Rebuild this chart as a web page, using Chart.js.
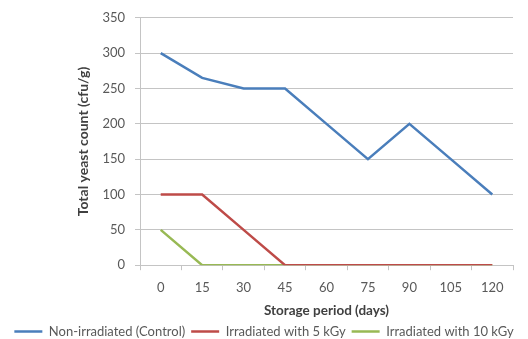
<!DOCTYPE html>
<html>
<head>
<meta charset="utf-8">
<script src="https://cdn.jsdelivr.net/npm/chart.js@4/dist/chart.umd.min.js"></script>
<style>
  html, body { margin: 0; padding: 0; background: #ffffff; }
  #wrap { width: 528px; height: 339px; }
</style>
</head>
<body>
<div id="wrap"><canvas id="c"></canvas></div>
<script>
// Storage period (days)
const storageDays = ['0', '15', '30', '45', '60', '75', '90', '105', '120'];
// Total yeast count (cfu/g) per treatment
const nonIrradiated = [300, 265, 250, 250, 200, 150, 200, 150, 100];
const irradiated5kGy = [100, 100, 50, 0, 0, 0, 0, 0, 0];
const irradiated10kGy = [50, 0, 0, 0, 0, 0, 0, 0, 0];
// Value axis ticks
const yTickValues = [0, 50, 100, 150, 200, 250, 300, 350];

const FONT = 'Lato, "Open Sans", sans-serif';
const TICK_COLOR = '#595959';
const GRID_COLOR = '#c4c4c4';

const lineSet = (label, data, color) => ({
  label, data,
  borderColor: color,
  backgroundColor: color,
  borderWidth: 2.5,
  pointRadius: 0,
  pointHoverRadius: 0,
  tension: 0,
  fill: false,
  pointStyle: 'line'
});

new Chart(document.getElementById('c'), {
  type: 'line',
  data: {
    labels: storageDays,
    datasets: [
      lineSet('Non-irradiated (Control)', nonIrradiated, '#4a7ebb'),
      lineSet('Irradiated with 5 kGy', irradiated5kGy, '#be4b48'),
      lineSet('Irradiated with 10 kGy', irradiated10kGy, '#98b954')
    ]
  },
  options: {
    responsive: true,
    maintainAspectRatio: false,
    animation: false,
    events: [],
    layout: { padding: { left: 0, right: 0, top: 10, bottom: -9 } },
    plugins: {
      tooltip: { enabled: false },
      legend: {
        position: 'bottom',
        labels: {
          font: { family: FONT, size: 13 },
          color: TICK_COLOR,
          usePointStyle: true,
          pointStyleWidth: 28,
          boxHeight: 13,
          padding: 6
        }
      }
    },
    scales: {
      x: {
        type: 'category',
        offset: true,
        border: { display: true, color: GRID_COLOR, width: 1 },
        grid: {
          offset: true,
          drawOnChartArea: false,
          drawTicks: true,
          tickLength: 5,
          color: GRID_COLOR
        },
        ticks: {
          font: { family: FONT, size: 13 },
          color: TICK_COLOR,
          padding: 10,
          maxRotation: 0
        },
        title: {
          display: true,
          text: 'Storage period (days)',
          font: { family: FONT, size: 13.5, weight: 'bold' },
          color: '#404040',
          padding: { top: -3, bottom: 0 }
        }
      },
      y: {
        min: 0,
        max: 350,
        afterBuildTicks: (scale) => {
          scale.ticks = yTickValues.map(v => ({ value: v }));
        },
        afterFit: (scale) => { scale.width = 140; },
        border: { display: true, color: GRID_COLOR, width: 1 },
        grid: {
          color: GRID_COLOR,
          drawTicks: true,
          tickLength: 5
        },
        ticks: {
          font: { family: FONT, size: 13 },
          color: TICK_COLOR,
          padding: 10
        },
        title: {
          display: true,
          text: 'Total yeast count (cfu/g)',
          font: { family: FONT, size: 14, weight: 'bold' },
          color: '#404040',
          padding: { top: 75, bottom: 0 }
        }
      },
      // blank right-hand margin beside the plot
      yRight: {
        position: 'right',
        min: 0,
        max: 350,
        grid: { display: false },
        border: { display: false },
        ticks: { display: false },
        afterFit: (scale) => { scale.width = 15; }
      }
    }
  }
});
</script>
</body>
</html>
